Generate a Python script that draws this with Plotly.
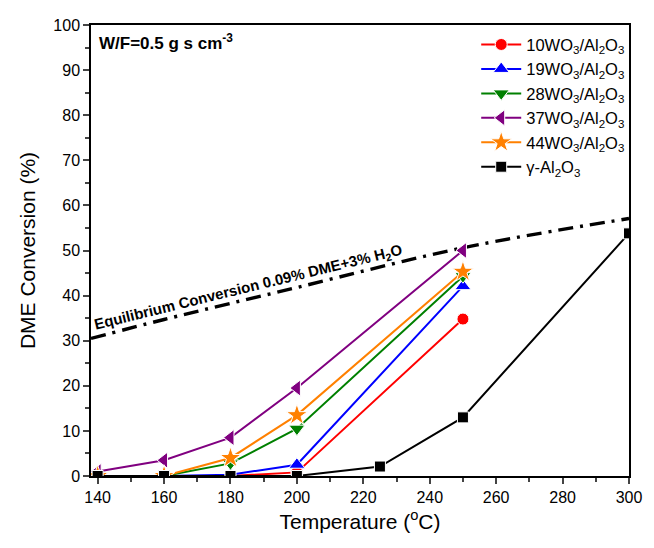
import plotly.graph_objects as go

temps = [140, 160, 180, 200, 250]
wo10 = [0, 0, 0, 0.8, 34.8]
wo19 = [0, 0, 0.3, 2.5, 42.1]
wo28 = [0, 0, 2.8, 10.5, 44.3]
wo37 = [1.0, 3.5, 8.5, 19.5, 50.0]
wo44 = [0, 0, 4.0, 13.5, 45.3]
al_temps = [140, 160, 180, 200, 225, 250, 300]
al2o3 = [0, 0, 0, 0, 2.1, 13.0, 53.8]
eq_temps = [138, 160, 200, 250, 300]
eq_conv = [30.5, 34.7, 41.8, 50.6, 57.1]

names = ["10WO<sub>3</sub>/Al<sub>2</sub>O<sub>3</sub>",
         "19WO<sub>3</sub>/Al<sub>2</sub>O<sub>3</sub>",
         "28WO<sub>3</sub>/Al<sub>2</sub>O<sub>3</sub>",
         "37WO<sub>3</sub>/Al<sub>2</sub>O<sub>3</sub>",
         "44WO<sub>3</sub>/Al<sub>2</sub>O<sub>3</sub>",
         "γ-Al<sub>2</sub>O<sub>3</sub>"]
colors = ["#ff0000", "#0000ff", "#008000", "#800080", "#ff8000", "#000000"]
symbols = ["circle", "triangle-up", "triangle-down", "triangle-left", "star", "square"]
sizes = [12, 14, 14, 14, 16, 11]
FONT = "Liberation Sans, Arial, sans-serif"

fig = go.Figure()
fig.add_trace(go.Scatter(x=eq_temps, y=eq_conv, mode="lines", showlegend=False,
                         line=dict(color="black", width=3.4, dash="15px,7px,3px,7px"),
                         line_shape="spline"))
series = [(temps, wo10), (temps, wo19), (temps, wo28), (temps, wo37), (temps, wo44), (al_temps, al2o3)]
for (xs, ys), n, c, s, sz in zip(series, names, colors, symbols, sizes):
    fig.add_trace(go.Scatter(x=xs, y=ys, mode="lines+markers", name=n,
                             line=dict(color=c, width=2),
                             marker=dict(symbol=s, size=sz, color=c,
                                         line=dict(color="white", width=1))))

fig.add_annotation(x=0.012, y=0.962, xref="paper", yref="paper", xanchor="left", yanchor="middle",
                   text="<b>W/F=0.5 g s cm<sup>-3</sup></b>", showarrow=False,
                   font=dict(family=FONT, size=17, color="black"))
fig.add_annotation(x=185.5, y=41.9, xref="x", yref="y", xanchor="center", yanchor="middle",
                   text="<b>Equilibrium Conversion 0.09% DME+3% H<sub>2</sub>O</b>", showarrow=False,
                   textangle=-13.8, font=dict(family=FONT, size=15, color="black"))

fig.update_layout(
    width=654, height=548,
    margin=dict(l=91, r=14, t=25, b=72),
    plot_bgcolor="white", paper_bgcolor="white",
    font=dict(family=FONT, size=16, color="black"),
    legend=dict(x=0.716, y=0.995, xanchor="left", yanchor="top",
                bgcolor="rgba(255,255,255,0)", font=dict(size=16.5),
                tracegroupgap=0, itemwidth=40),
    xaxis=dict(range=[138, 300], tick0=140, dtick=20, ticks="outside", ticklen=6, tickwidth=1.5,
               showline=True, linecolor="black", linewidth=1.5, mirror=True, showgrid=False,
               zeroline=False, tickfont=dict(size=16),
               minor=dict(ticks="outside", ticklen=4, dtick=10, tickwidth=1.5, showgrid=False),
               title=dict(text="Temperature (<sup>o</sup>C)", font=dict(size=21), standoff=9)),
    yaxis=dict(range=[0, 100], tick0=0, dtick=10, ticks="outside", ticklen=6, tickwidth=1.5,
               showline=True, linecolor="black", linewidth=1.5, mirror=True, showgrid=False,
               zeroline=False, tickfont=dict(size=16),
               minor=dict(ticks="outside", ticklen=4, dtick=5, tickwidth=1.5, showgrid=False),
               title=dict(text="DME Conversion (%)", font=dict(size=21), standoff=12)),
)
fig.write_html("out.html")
